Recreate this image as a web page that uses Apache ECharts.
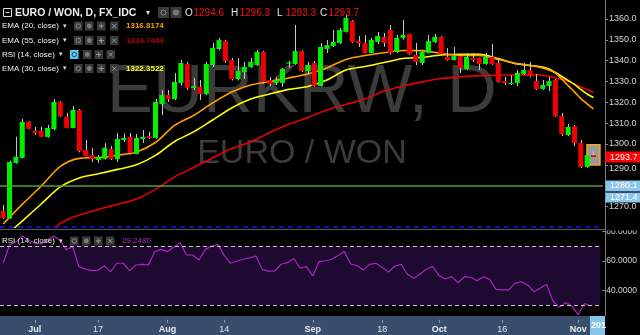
<!DOCTYPE html>
<html><head><meta charset="utf-8">
<script src="https://cdn.jsdelivr.net/npm/echarts@6/dist/echarts.min.js"></script>
<style>html,body{margin:0;padding:0;background:#000;}#c{width:640px;height:335px;}</style>
</head><body><div id="c"></div>
<script>
// ---------- DATA ----------
const categories = ['06-26','06-27','06-28','06-29','06-30',
'07-03','07-04','07-05','07-06','07-07','07-10','07-11','07-12','07-13','07-14','07-17','07-18','07-19','07-20','07-21','07-24','07-25','07-26','07-27','07-28','07-31',
'08-01','08-02','08-03','08-04','08-07','08-08','08-09','08-10','08-11','08-14','08-15','08-16','08-17','08-18','08-21','08-22','08-23','08-24','08-25','08-28','08-29','08-30','08-31',
'09-01','09-04','09-05','09-06','09-07','09-08','09-11','09-12','09-13','09-14','09-15','09-18','09-19','09-20','09-21','09-22','09-25','09-26','09-27','09-28',
'10-02','10-03','10-04','10-05','10-06','10-09','10-10','10-11','10-12','10-13','10-16','10-17','10-18','10-19','10-20','10-23','10-24','10-25','10-26','10-27','10-30','10-31',
'11-01','11-02','11-03',''];
const tickDates  = ['07-03','07-17','08-01','08-14','09-01','09-18','10-02','10-16','11-01'];
const tickLabels = ['Jul','17','Aug','14','Sep','18','Oct','16','Nov'];

const opens = [1267.8,1264.5,1290.9,1293.3,1310.6,1306.3,1306.2,1303.4,1307.2,1320.2,
1313.0,1307.7,1316.3,1297.1,1294.7,1292.3,1292.9,1297.6,1292.8,1301.9,
1303.4,1295.2,1302.4,1303.8,1302.9,1319.2,1323.5,1321.6,1329.3,1338.4,
1326.9,1327.4,1324.0,1337.9,1345.6,1349.4,1340.3,1331.2,1334.6,1337.0,
1337.9,1344.2,1330.7,1329.3,1329.3,1338.9,1338.4,1344.6,1335.0,1338.9,
1327.8,1345.6,1347.0,1348.5,1353.8,1359.0,1349.4,1348.5,1343.7,1349.0,
1351.4,1354.7,1344.2,1350.9,1352.8,1342.7,1338.9,1343.7,1349.0,1351.4,
1341.8,1340.3,1342.2,1336.0,1341.3,1341.3,1338.4,1341.8,1338.9,1330.2,
1329.0,1329.3,1333.6,1335.5,1330.2,1326.4,1327.8,1330.7,1313.4,1304.3,
1308.6,1300.5,1289.0,1294.6];
const highs = [1270.7,1292.0,1303.5,1312.0,1311.0,1308.2,1308.2,1309.1,1321.6,1320.6,
1315.0,1318.2,1316.8,1301.9,1298.0,1294.7,1300.4,1299.0,1305.3,1305.0,
1305.3,1304.8,1306.7,1305.8,1321.6,1325.9,1325.9,1334.0,1340.3,1339.4,
1331.7,1330.7,1339.4,1348.5,1350.9,1350.0,1341.3,1341.3,1339.4,1341.3,
1345.1,1344.6,1332.2,1332.2,1336.5,1340.0,1357.1,1345.0,1339.4,1339.8,
1348.5,1349.9,1354.7,1355.7,1362.4,1359.5,1351.8,1352.3,1350.9,1353.8,
1353.3,1357.1,1352.3,1359.5,1353.0,1348.5,1344.5,1352.3,1352.8,1351.8,
1346.1,1346.6,1342.5,1343.7,1343.7,1341.5,1343.7,1348.0,1341.3,1332.2,
1333.1,1335.5,1338.9,1339.4,1333.6,1330.7,1332.2,1331.2,1314.9,1309.6,
1309.1,1301.9,1295.0,1296.3];
const lows = [1264.0,1264.0,1290.5,1293.0,1307.0,1304.3,1303.4,1303.0,1306.7,1313.0,
1307.5,1307.5,1296.0,1294.0,1291.4,1290.9,1292.5,1292.3,1291.4,1301.0,
1295.0,1295.0,1300.5,1302.4,1302.5,1313.9,1320.2,1321.0,1328.0,1326.0,
1325.9,1321.1,1323.5,1337.0,1345.0,1339.0,1330.5,1330.5,1331.2,1336.5,
1337.5,1329.0,1327.8,1328.3,1327.4,1336.5,1338.0,1334.5,1333.6,1327.5,
1327.5,1343.7,1346.5,1348.0,1353.5,1348.5,1346.6,1343.5,1343.5,1348.0,
1346.6,1343.0,1343.7,1350.0,1342.8,1337.9,1337.9,1343.5,1348.5,1343.0,
1340.0,1340.0,1334.1,1335.5,1339.4,1335.5,1338.0,1338.0,1329.5,1328.3,
1328.3,1327.8,1333.1,1332.0,1326.0,1326.0,1325.4,1313.0,1303.8,1303.8,
1299.0,1288.5,1288.5,1293.3];
const closes = [1264.5,1291.4,1293.8,1310.6,1307.2,1305.3,1303.5,1307.7,1320.2,1313.4,
1307.7,1316.3,1296.6,1294.2,1292.8,1293.8,1298.2,1292.8,1302.4,1302.9,
1295.7,1302.9,1303.4,1302.9,1320.2,1323.5,1321.6,1329.8,1338.9,1326.9,
1327.8,1324.0,1338.4,1346.1,1349.9,1339.8,1331.2,1335.0,1337.0,1339.4,
1344.2,1329.8,1328.8,1330.7,1336.0,1339.1,1344.6,1335.0,1337.9,1327.8,
1346.6,1347.5,1349.0,1354.7,1360.5,1349.0,1348.5,1343.7,1349.9,1351.8,
1348.5,1343.7,1350.9,1352.3,1343.2,1339.4,1344.2,1349.4,1351.4,1343.2,
1340.3,1342.2,1336.5,1341.8,1340.3,1338.4,1341.8,1338.4,1329.8,1329.3,
1329.4,1334.1,1335.5,1332.6,1326.4,1328.3,1330.2,1313.4,1304.8,1308.2,
1300.5,1289.0,1294.7,1293.7];

// EMA values at these bar indices
const emaIdx = [0,3,6,9,12,15,18,21,24,27,30,33,36,39,42,45,48,51,54,57,60,63,66,69,72,75,78,81,84,86,87,88,89,90,91,92,93];
const ema20 = [1261.6,1271.0,1279.8,1289.2,1293.1,1293.5,1294.6,1296.2,1300.7,1308.9,1313.7,1319.7,1325.0,1328.3,1330.0,1331.7,1333.6,1336.5,1340.6,1342.5,1343.8,1344.9,1344.8,1343.5,1342.5,1342.5,1340.6,1338.6,1337.2,1335.5,1334.0,1331.2,1328.0,1325.0,1321.8,1319.3,1316.8174];
const ema30 = [1255.0,1263.0,1271.2,1279.4,1283.7,1285.7,1287.8,1290.0,1294.5,1301.2,1305.8,1311.5,1317.3,1321.6,1324.0,1326.2,1327.6,1330.7,1335.5,1337.2,1339.1,1341.0,1341.6,1342.7,1343.1,1343.0,1341.0,1338.4,1337.4,1336.0,1334.3,1332.4,1330.5,1328.6,1326.2,1324.0,1322.3522];
const ema55 = [null,null,1252.8,1261.9,1265.9,1268.6,1271.0,1273.6,1278.2,1284.2,1288.7,1293.3,1297.8,1301.0,1305.5,1309.5,1312.7,1316.3,1319.0,1321.6,1325.4,1327.8,1329.8,1331.4,1332.2,1332.8,1333.1,1333.1,1333.1,1332.5,1331.7,1331.0,1330.2,1328.6,1327.4,1326.0,1324.7444];

const rsi = [58.3,70.7,72.5,76.8,74.1,71.8,71.4,74.1,76.8,74.0,
67.5,69.5,56.0,54.3,53.3,53.7,56.4,52.6,58.3,58.3,
53.3,57.1,57.6,57.2,66.2,67.7,66.2,69.1,72.3,63.9,
63.9,60.5,67.7,70.0,71.1,63.5,58.3,59.8,61.0,62.0,
63.2,54.2,53.0,53.2,57.6,58.7,61.6,54.9,56.0,49.7,
59.4,60.0,61.0,63.5,66.2,57.8,56.8,53.7,57.6,58.3,
55.5,52.4,56.4,57.6,50.8,48.1,51.0,54.4,56.0,49.9,
47.6,49.2,45.1,49.2,48.8,46.5,49.2,47.4,40.6,40.2,
40.2,44.7,45.8,43.6,39.0,41.3,44.0,32.7,28.4,31.6,
29.3,23.5,31.0,29.248];

const priceTicks = {min:1260, max:1369.12, interval:10};
const rsiTicks = {min:20, max:80, interval:20};
const greenLevel = 1280.1, blueLevel = 1271.4, dashLevel = 1260.4;
const rsiBand = [30, 70];

// ---------- CHART ----------
const FONT = '"Liberation Sans", Arial, sans-serif';
const chart = echarts.init(document.getElementById('c'), null, {renderer:'canvas', width:640, height:335});
const candleData = opens.map((o,i)=>[i,o,closes[i],lows[i],highs[i]]);
const pairs = arr => emaIdx.map((k,j)=>[k, arr[j]]).filter(p=>p[1]!=null);

function renderCandle(params, api){
  const i = api.value(0), o = api.value(1), c = api.value(2), l = api.value(3), h = api.value(4);
  const pO = api.coord([i,o]), pC = api.coord([i,c]), pL = api.coord([i,l]), pH = api.coord([i,h]);
  const bw = api.size([1,0])[0]*0.8;
  const x = pO[0];
  const top = Math.min(pO[1],pC[1]), bot = Math.max(pO[1],pC[1]);
  const up = c >= o;
  const xr = Math.round(x)+0.5;
  return {type:'group', children:[
    {type:'line', shape:{x1:xr,y1:pH[1],x2:xr,y2:pL[1]}, style:{stroke:'#c8c8c8', lineWidth:1}},
    {type:'rect', shape:{x:x-bw/2, y:top, width:bw, height:Math.max(bot-top,1.2)}, style:{fill: up?'#00f000':'#f00000'}}
  ]};
}

const tickFn = (idx, val) => tickDates.indexOf(val) >= 0;

const option = {
  backgroundColor:'#000',
  animation:false,
  grid:[
    {left:0, top:0, width:603, height:227.3},
    {left:0, top:231.25, width:603, height:88.5}
  ],
  xAxis:[
    {type:'category', gridIndex:0, data:categories, boundaryGap:true, show:false},
    {type:'category', gridIndex:1, data:categories, boundaryGap:true, z:10,
     axisLine:{show:false},
     axisTick:{show:true, alignWithLabel:true, interval:tickFn, length:3, lineStyle:{color:'#8ea0b8'}},
     axisLabel:{interval:tickFn, margin:5, color:'#dfe6f0', fontSize:9, fontFamily:FONT,
       formatter: v => { const t = tickLabels[tickDates.indexOf(v)] || ''; return /^[A-Z]/.test(t) ? '{b|'+t+'}' : t; },
       rich:{b:{fontWeight:'bold', fontSize:9, color:'#e8eef6', fontFamily:FONT}}},
     splitLine:{show:false}}
  ],
  yAxis:[
    {type:'value', gridIndex:0, position:'right', offset:2, min:priceTicks.min, max:priceTicks.max, interval:priceTicks.interval,
     axisLine:{show:false}, splitLine:{show:false},
     axisTick:{show:true, length:3, lineStyle:{color:'#8a8a8a'}},
     axisLabel:{color:'#d4d4d4', fontSize:9, fontFamily:FONT, margin:4,
       showMaxLabel:false,
       formatter: v => (v===1260||v===1280) ? '' : (v===1290 ? '{d|'+v.toFixed(1)+'}' : v.toFixed(1)),
       rich:{d:{padding:[8,0,0,0], color:'#d4d4d4', fontSize:9, fontFamily:FONT}}}},
    {type:'value', gridIndex:1, position:'right', offset:2, min:rsiTicks.min, max:rsiTicks.max, interval:rsiTicks.interval,
     axisLine:{show:false}, splitLine:{show:false},
     axisTick:{show:true, length:3, lineStyle:{color:'#8a8a8a'}},
     axisLabel:{color:'#d4d4d4', fontSize:8.5, fontFamily:FONT, margin:4,
       formatter: v => v===20 ? '' : v.toFixed(4)}}
  ],
  series:[
    {type:'line', xAxisIndex:0, yAxisIndex:0, data:pairs(ema55), symbol:'none', smooth:0.3, z:2,
     lineStyle:{color:'#e80000', width:1.6},
     markLine:{silent:true, symbol:'none', label:{show:false},
       data:[
         {yAxis:greenLevel, lineStyle:{color:'#5c9e30', width:1.5, type:'solid'}},
         {yAxis:dashLevel, lineStyle:{color:'#1a1ae6', width:1.5, type:[5,4]}}
       ]}},
    {type:'line', xAxisIndex:0, yAxisIndex:0, data:pairs(ema30), symbol:'none', smooth:0.3, z:2,
     lineStyle:{color:'#ffff00', width:1.6}},
    {type:'line', xAxisIndex:0, yAxisIndex:0, data:pairs(ema20), symbol:'none', smooth:0.3, z:2,
     lineStyle:{color:'#ffa000', width:1.6}},
    {type:'custom', xAxisIndex:0, yAxisIndex:0, data:candleData, renderItem:renderCandle, z:3,
     encode:{x:0, y:[1,2,3,4]}},
    {type:'line', xAxisIndex:1, yAxisIndex:1, data:rsi, symbol:'none', z:1,
     lineStyle:{width:0, opacity:0},
     markArea:{silent:true, itemStyle:{color:'#1e0930'}, data:[[{yAxis:rsiBand[0]},{yAxis:rsiBand[1]}]]},
     markLine:{silent:true, symbol:'none', label:{show:false},
       lineStyle:{color:'#cdbccd', width:1, type:[4,3]},
       data:[{yAxis:rsiBand[0]},{yAxis:rsiBand[1]}]}},
    {type:'line', xAxisIndex:1, yAxisIndex:1, data:rsi, symbol:'none', z:3,
     lineStyle:{color:'#a526c0', width:1.2}}
  ]
};
chart.setOption(option);

// ---------- OVERLAYS ----------
const G = [];
function T(x,y,text,fill,font,z,align){
  G.push({type:'text', z:z||20, style:{x:x, y:y, text:text, fill:fill, font:font,
    align:align||'left', textAlign:align||'left', verticalAlign:'middle', textVerticalAlign:'middle'}});
}
function R(x,y,w,h,fill,z,stroke,lw){
  G.push({type:'rect', z:z||20, shape:{x:x,y:y,width:w,height:h}, style:{fill:fill, stroke:stroke||null, lineWidth:lw||0}});
}
function L(x1,y1,x2,y2,stroke,z,lw){
  G.push({type:'line', z:z||20, shape:{x1:x1,y1:y1,x2:x2,y2:y2}, style:{stroke:stroke, lineWidth:lw||1}});
}
const px = (i,v) => chart.convertToPixel({gridIndex:0}, [i,v]);
const last = closes.length-1;

// watermark
T(302, 92.5, 'EURKRW, D', '#3b3b3b', '69px '+FONT, 1, 'center');
T(302, 154, 'EURO / WON', '#3b3b3b', '34px '+FONT, 1, 'center');

// bottom strip
R(0, 316, 605, 19, '#394d6c', 1);
R(590, 316, 15, 19, '#88c4e8', 11);
T(591, 326, '201', '#ffffff', 'bold 9px '+FONT, 12);

// separators / axis line
L(0, 229.5, 605, 229.5, '#5e5e5e', 5);
L(605.5, 0, 605.5, 316, '#7d7d7d', 5);
R(606, 221, 34, 9.5, '#000', 30);

// header
G.push({type:'rect', z:20, shape:{x:3.5,y:8.5,width:8,height:8}, style:{fill:'none', stroke:'#dddddd', lineWidth:1}});
L(5.5, 12.5, 9.5, 12.5, '#dddddd', 20);
T(15, 13, 'EURO / WON, D, FX_IDC', '#eeeeee', 'bold 10.5px '+FONT);
T(146, 13, '▾', '#dddddd', '8px '+FONT);
R(158, 7, 11, 11, '#3a3a3a'); R(170.5, 7, 11, 11, '#3a3a3a');
G.push({type:'circle', z:21, shape:{cx:163.5,cy:12.5,r:2.5}, style:{fill:'none', stroke:'#8a8a8a', lineWidth:1}});
G.push({type:'circle', z:21, shape:{cx:176,cy:12.5,r:3}, style:{fill:'#777', stroke:null}});
const ohlc = [['O',opens[last],185],['H',highs[last],231],['L',lows[last],277],['C',closes[last],320]];
ohlc.forEach(o => { T(o[2], 13, o[0], '#e6e6e6', '10px '+FONT); T(o[2]+8.5, 13, o[1].toFixed(1), '#ff1010', '10px '+FONT); });

// indicator rows
function iconRow(xs, y, blueFirst){
  xs.forEach((x,k)=>{
    R(x, y-4.5, 8.5, 9, (k===0 && blueFirst) ? '#5cc8f0' : '#3a3a3a', 20);
    const cx = x+4.25;
    if(k===0) G.push({type:'circle', z:21, shape:{cx:cx,cy:y,r:2.2}, style:{fill:'none', stroke: blueFirst?'#0d4d66':'#8a8a8a', lineWidth:1}});
    if(k===1) G.push({type:'circle', z:21, shape:{cx:cx,cy:y,r:2.4}, style:{fill:'#7a7a7a', stroke:null}});
    if(k===2){ L(cx-2.5,y,cx+2.5,y,'#9a9a9a',21); L(cx,y-2.5,cx,y+2.5,'#9a9a9a',21); }
    if(k===3){ L(cx-2,y-2,cx+2,y+2,'#9a9a9a',21); L(cx-2,y+2,cx+2,y-2,'#9a9a9a',21); }
  });
}
const rows = [
  {t:'EMA (20, close)', y:26, v:ema20[ema20.length-1].toFixed(4), c:'#ff9c00', icons:[74,85,97,110]},
  {t:'EMA (55, close)', y:40.5, v:ema55[ema55.length-1].toFixed(4), c:'#b30000', icons:[74,85,97,110]},
  {t:'RSI (14, close)', y:54.5, v:null, c:null, icons:[70,83,94.5,106.5], blue:true},
  {t:'EMA (30, close)', y:68.5, v:ema30[ema30.length-1].toFixed(4), c:'#ffff20', icons:[74,85,97,110]}
];
rows.forEach(r => {
  T(2, r.y, r.t, '#eeeeee', '8px '+FONT);
  T(r.blue?59:63, r.y, '▾', '#dddddd', '7px '+FONT);
  iconRow(r.icons, r.y, r.blue);
  if(r.v) T(126, r.y, r.v, r.c, 'bold 8px '+FONT);
});
// RSI pane legend
T(2, 241, 'RSI (14, close)', '#eeeeee', '8px '+FONT, 20);
T(59, 241, '▾', '#dddddd', '7px '+FONT, 20);
iconRow([70,82,94,106], 241, false);
T(122, 241, rsi[last].toFixed(4), '#b02ccc', '8px '+FONT, 20);

// last candle highlight box
const pH = px(last, highs[last]), pL = px(last, lows[last]);
R(pH[0]-6.5, pH[1]-7, 13, (pL[1]-pH[1])+14, '#9b9b9b', 2.5, '#f5a623', 1.5);

// price labels on the right
const yC = px(last, closes[last])[1];
R(605.5, yC-5.5, 34.5, 11, '#ff0000', 25);
T(610, yC+0.5, closes[last].toFixed(1), '#ffffff', '9px '+FONT, 26);
const yG = px(last, greenLevel)[1];
const yB = px(last, blueLevel)[1] - 6;
R(605.5, yG+2, 34.5, 11, '#3b4f6e', 25);
R(605.5, yG-5, 34.5, 10.5, '#8cc6ea', 26);
T(610, yG+0.3, greenLevel.toFixed(1), '#ffffff', '9px '+FONT, 27);
R(605.5, yB-4.5, 34.5, 9.5, '#8cc6ea', 26);
T(610, yB+0.3, blueLevel.toFixed(1), '#ffffff', '9px '+FONT, 27);

chart.setOption({graphic: G});
</script>
</body></html>
